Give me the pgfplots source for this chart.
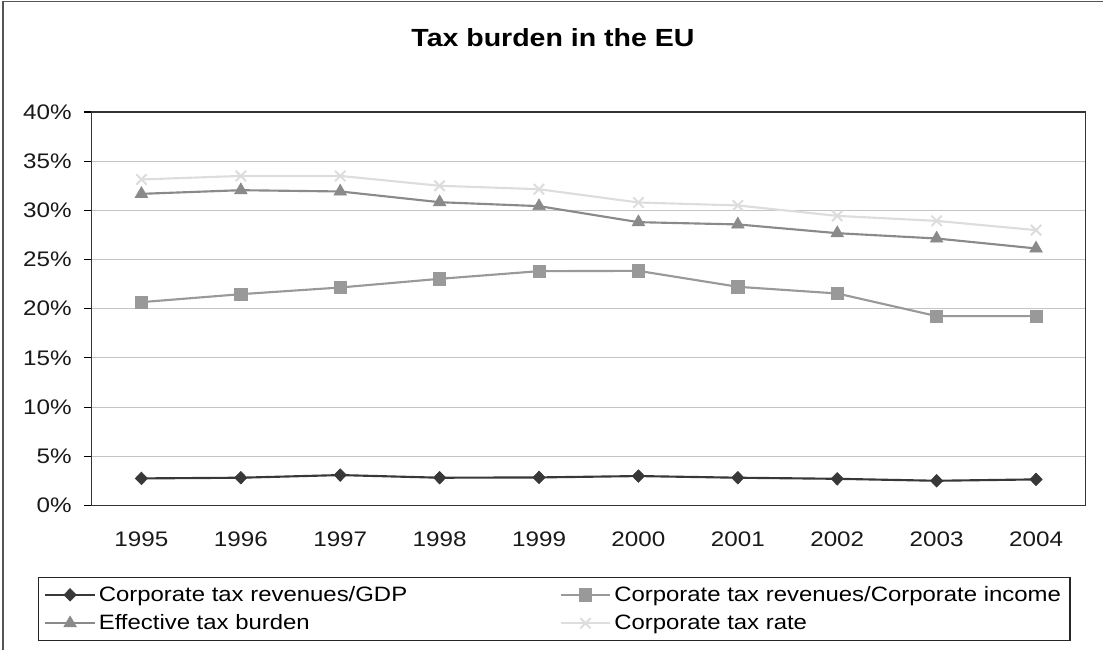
\documentclass[border=0pt]{standalone}
\usepackage{pgfplots}
\pgfplotsset{compat=1.18}
\usepackage{fontspec}
\setmainfont{Liberation Sans}[FakeStretch=1.15]
\definecolor{cgdp}{HTML}{383838}
\definecolor{csq}{HTML}{999999}
\definecolor{ctri}{HTML}{8A8A8A}
\definecolor{cx}{HTML}{DDDDDD}
\definecolor{cgrid}{HTML}{C4C4C4}
\definecolor{cframe}{HTML}{555555}
\begin{document}
\begin{tikzpicture}
\path[use as bounding box] (0,0) rectangle (827.25pt,487.5pt);
\draw[cframe,line width=1.4pt] (2.25pt,0) -- (2.25pt,486.4pt) -- (827.25pt,486.4pt);
\node[anchor=base,font=\fontsize{18.6pt}{22pt}\selectfont\bfseries] at (414.75pt,452.5pt) {Tax burden in the EU};
\begin{axis}[
  at={(68.8pt,108.4pt)}, anchor=south west,
  scale only axis, width=745.5pt, height=295.1pt,
  xmin=-0.5, xmax=9.5, ymin=0, ymax=40,
  xtick={0,...,9},
  xticklabels={1995,1996,1997,1998,1999,2000,2001,2002,2003,2004},
  minor xtick={-0.5,0.5,...,9.5},
  ytick={0,5,...,40},
  yticklabels={0\%,5\%,10\%,15\%,20\%,25\%,30\%,35\%,40\%},
  xtick pos=bottom, ytick pos=left,
  tick align=outside,
  major tick length=6pt, minor tick length=5pt,
  xtick style={draw=none},
  minor x tick style={black, line width=0.8pt},
  ytick style={black, line width=0.8pt},
  ymajorgrids, grid style={cgrid, line width=0.8pt},
  axis line style={black!80, line width=0.9pt},
  tick label style={font=\fontsize{15.8pt}{18pt}\selectfont, text=black!90},
  yticklabel style={inner sep=0pt},
  xticklabel style={inner sep=0pt},
  yticklabel shift=8.8pt,
  xticklabel shift=13.6pt,
  legend columns=2,
  legend cell align=left,
  legend image code/.code={\draw[mark repeat=2,mark phase=2,#1] plot coordinates {(0pt,0pt) (18.5pt,0pt) (37pt,0pt)};},
  legend style={at={(-0.0543,-0.1817)}, anchor=north west,
    draw=black!85, line width=0.9pt, fill=white,
    font=\fontsize{15.6pt}{18pt}\selectfont,
    inner xsep=4.5pt, inner ysep=4.3pt,
    nodes={inner sep=2.25pt},
    column sep=0pt, row sep=4pt},
]
\addplot[cgdp, line width=1.6pt, mark=diamond*, mark size=4.7pt, mark options={solid, xscale=1.3, fill=cgdp, draw=cgdp, line width=0.5pt}]
  coordinates {(0,2.75) (1,2.82) (2,3.09) (3,2.82) (4,2.85) (5,2.99) (6,2.82) (7,2.71) (8,2.51) (9,2.65)};
\addlegendentry{\makebox[343.5pt][l]{Corporate tax revenues/GDP}}
\addplot[csq, line width=1.6pt, mark=square*, mark size=4.6pt, mark options={solid, fill=csq, draw=csq, line width=0.5pt}]
  coordinates {(0,20.67) (1,21.48) (2,22.16) (3,23.04) (4,23.82) (5,23.85) (6,22.23) (7,21.55) (8,19.25) (9,19.25)};
\addlegendentry{Corporate tax revenues/Corporate income}
\addplot[ctri, line width=1.6pt, mark=triangle*, mark size=5.4pt, mark options={solid, fill=ctri, draw=ctri, line width=0.5pt}]
  coordinates {(0,31.68) (1,32.05) (2,31.92) (3,30.83) (4,30.43) (5,28.80) (6,28.57) (7,27.68) (8,27.14) (9,26.13)};
\addlegendentry{Effective tax burden}
\addplot[cx, line width=1.6pt, mark=x, mark size=5.5pt, mark options={solid, draw=cx, line width=1.5pt}]
  coordinates {(0,33.14) (1,33.5) (2,33.5) (3,32.5) (4,32.15) (5,30.8) (6,30.5) (7,29.44) (8,28.93) (9,27.99)};
\addlegendentry{Corporate tax rate}
\end{axis}
\end{tikzpicture}
\end{document}
